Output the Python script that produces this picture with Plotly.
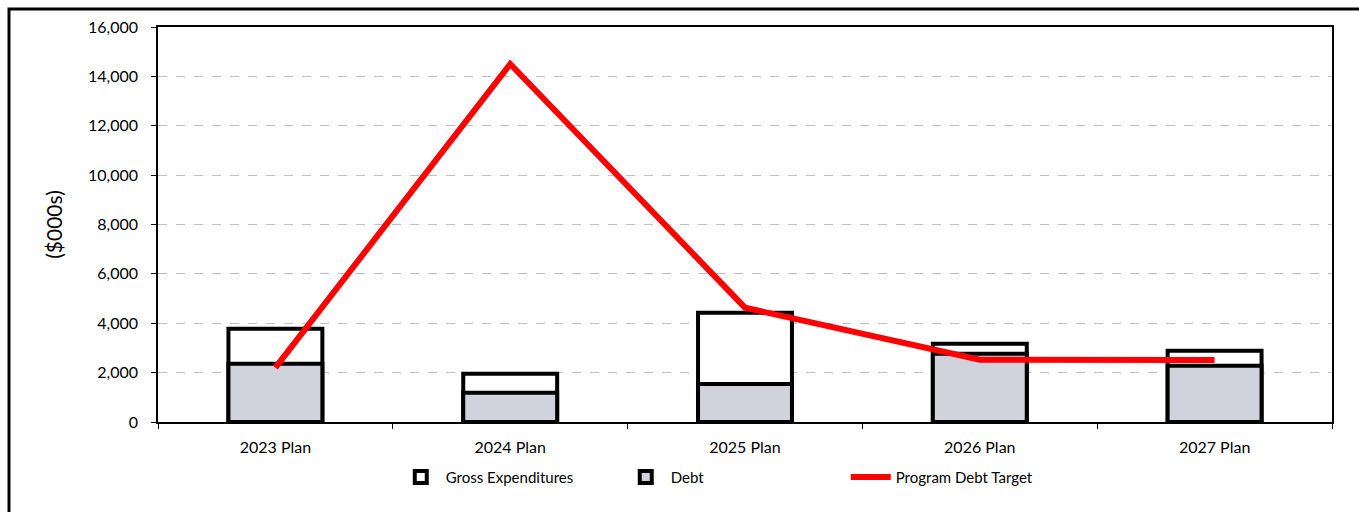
import plotly.graph_objects as go

categories = ["2023 Plan", "2024 Plan", "2025 Plan", "2026 Plan", "2027 Plan"]
gross_expenditures = [3780, 1950, 4430, 3170, 2890]
debt = [2360, 1180, 1540, 2760, 2280]
program_debt_target = [2200, 14500, 4630, 2520, 2510]

FONT = "Lato, 'Open Sans', sans-serif"

fig = go.Figure()
fig.add_trace(go.Bar(
    x=categories, y=gross_expenditures, name="Gross Expenditures",
    marker=dict(color="white", line=dict(color="black", width=4)),
    width=0.4,
))
fig.add_trace(go.Bar(
    x=categories, y=debt, name="Debt",
    marker=dict(color="#D0D3DB", line=dict(color="black", width=4)),
    width=0.4,
))
fig.add_trace(go.Scatter(
    x=categories, y=program_debt_target, name="Program Debt Target",
    mode="lines", line=dict(color="#FF0000", width=6),
))

L, R, T, B = 158, 27, 27, 90
W, H = 1359, 512
pw, ph = W - L - R, H - T - B

x_left = (9 - L) / pw
y_top = 1 + (T - 9) / ph
x_right = (W - L + 10) / pw
y_bot = -(B + 10) / ph

fig.update_layout(
    width=W, height=H,
    margin=dict(l=L, r=R, t=T, b=B),
    barmode="overlay",
    plot_bgcolor="white", paper_bgcolor="white",
    font=dict(family=FONT, size=16, color="#000000"),
    showlegend=True,
    legend=dict(orientation="h", x=0.49, xanchor="center", y=-0.14, yanchor="middle",
                font=dict(size=15), traceorder="normal", itemwidth=40,
                entrywidth=170, entrywidthmode="pixels"),
    xaxis=dict(
        type="category", range=[-0.5, 4.5],
        showline=True, linecolor="black", linewidth=1.5, mirror=True,
        ticks="outside", tickson="boundaries", ticklen=5, tickcolor="black",
        showgrid=False, tickfont=dict(size=16), ticklabelstandoff=10,
    ),
    yaxis=dict(
        range=[0, 16000], dtick=2000, tickformat=",d",
        showline=True, linecolor="black", linewidth=1.5, mirror=True,
        ticks="outside", ticklen=5, tickcolor="black",
        showgrid=True, gridcolor="#C0C0C0", griddash="dash", gridwidth=1,
        zeroline=False, tickfont=dict(size=16), ticklabelstandoff=10,
        title=dict(text="($000s)", font=dict(size=21), standoff=20),
    ),
    shapes=[dict(
        type="path", xref="paper", yref="paper",
        path=f"M {x_left} {y_bot} L {x_left} {y_top} L {x_right} {y_top}",
        line=dict(color="black", width=3),
    )],
)

fig.write_html("out.html")
